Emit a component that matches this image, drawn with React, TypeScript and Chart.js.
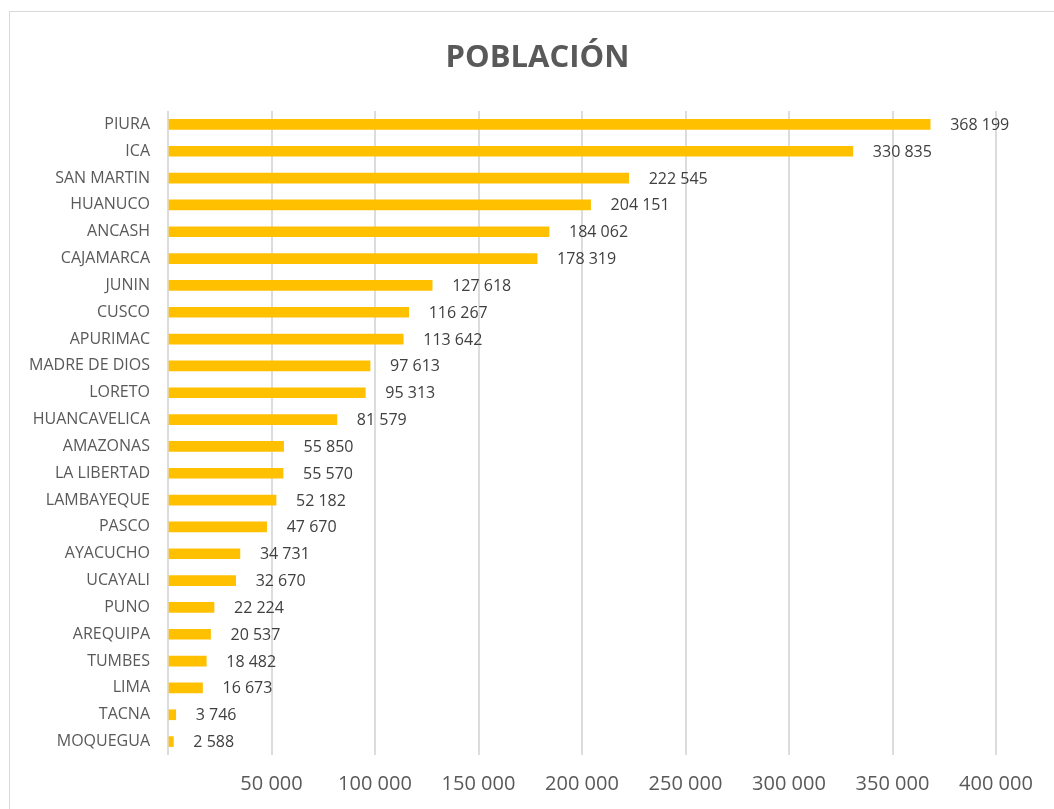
import React, { useEffect, useRef } from "react";
import { Chart, registerables } from "chart.js";

Chart.register(...registerables);

const categories = [
  "PIURA", "ICA", "SAN MARTIN", "HUANUCO", "ANCASH", "CAJAMARCA", "JUNIN", "CUSCO",
  "APURIMAC", "MADRE DE DIOS", "LORETO", "HUANCAVELICA", "AMAZONAS", "LA LIBERTAD",
  "LAMBAYEQUE", "PASCO", "AYACUCHO", "UCAYALI", "PUNO", "AREQUIPA", "TUMBES", "LIMA",
  "TACNA", "MOQUEGUA",
];

const poblacion = [
  368199, 330835, 222545, 204151, 184062, 178319, 127618, 116267,
  113642, 97613, 95313, 81579, 55850, 55570,
  52182, 47670, 34731, 32670, 22224, 20537, 18482, 16673,
  3746, 2588,
];

const axisMin = 0;
const axisMax = 400000;
const axisStep = 50000;

const titleText = "POBLACIÓN";

function fmt(v: number): string {
  return String(Math.round(v)).replace(/\B(?=(\d{3})+(?!\d))/g, " ");
}

const FONT = "'Open Sans', sans-serif";

const dataLabelPlugin = {
  id: "dataLabels",
  afterDatasetsDraw(chart: any) {
    const ctx = chart.ctx;
    const meta = chart.getDatasetMeta(0);
    ctx.save();
    ctx.font = `16px ${FONT}`;
    ctx.fillStyle = "#404040";
    ctx.textBaseline = "middle";
    ctx.textAlign = "left";
    meta.data.forEach((bar: any, i: number) => {
      const v = chart.data.datasets[0].data[i] as number;
      ctx.fillText(fmt(v), bar.x + 20, bar.y + 1);
    });
    ctx.restore();
  },
};

const titlePlugin = {
  id: "centeredTitle",
  afterDraw(chart: any) {
    const ctx = chart.ctx;
    ctx.save();
    ctx.font = `bold 31px ${FONT}`;
    ctx.fillStyle = "#595959";
    ctx.textAlign = "center";
    ctx.textBaseline = "alphabetic";
    ctx.fillText(titleText, 537.5, 67);
    ctx.restore();
  },
};

export default function App() {
  const canvasRef = useRef<HTMLCanvasElement | null>(null);

  useEffect(() => {
    if (!canvasRef.current) return;
    Chart.defaults.font.family = FONT;
    const chart = new Chart(canvasRef.current, {
      type: "bar",
      data: {
        labels: categories,
        datasets: [
          {
            data: poblacion,
            backgroundColor: "#FFC000",
            barThickness: 10,
          },
        ],
      },
      options: {
        indexAxis: "y",
        responsive: false,
        animation: false,
        layout: { padding: { left: 0, right: 58, top: 111, bottom: 0 } },
        plugins: {
          legend: { display: false },
          tooltip: { enabled: false },
          title: { display: false },
        },
        scales: {
          x: {
            min: axisMin,
            max: axisMax,
            ticks: {
              stepSize: axisStep,
              callback: (v: any) => (Number(v) === 0 ? "" : fmt(Number(v))),
              color: "#595959",
              font: { family: FONT, size: 20 },
              padding: 17,
              maxRotation: 0,
              autoSkip: false,
            },
            grid: { color: "#dcdcdc", lineWidth: 2, drawTicks: false },
            border: { display: false },
            afterFit: (s: any) => {
              s.height = 54;
            },
          },
          y: {
            ticks: {
              color: "#595959",
              font: { family: FONT, size: 16 },
              padding: 18,
              autoSkip: false,
            },
            grid: { display: false, drawTicks: false },
            border: { display: false },
            afterFit: (s: any) => {
              s.width = 168;
            },
          },
        },
      } as any,
      plugins: [dataLabelPlugin, titlePlugin],
    });
    if ((document as any).fonts && (document as any).fonts.ready) {
      (document as any).fonts.ready.then(() => chart.update());
    }
    return () => chart.destroy();
  }, []);

  return (
    <div
      style={{
        position: "fixed",
        left: 0,
        top: 0,
        width: "100vw",
        height: "100vh",
        overflow: "hidden",
        background: "#ffffff",
      }}
    >
      <div
        style={{
          position: "absolute",
          left: 9,
          top: 11,
          width: 1200,
          height: 1000,
          border: "1px solid #d9d9d9",
        }}
      />
      <canvas
        ref={canvasRef}
        width={1054}
        height={809}
        style={{ position: "absolute", left: 0, top: 0, display: "block" }}
      />
    </div>
  );
}
